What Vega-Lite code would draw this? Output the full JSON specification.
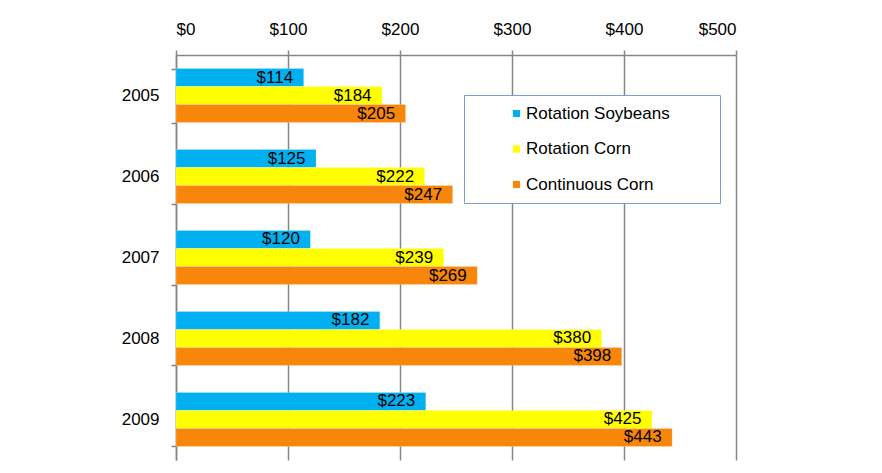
{
  "$schema": "https://vega.github.io/schema/vega-lite/v6.json",
  "width": 560,
  "height": 405,
  "autosize": {"type": "none"},
  "padding": {"left": 176, "top": 55, "right": 146, "bottom": 13},
  "background": "white",
  "config": {"font": "Liberation Sans", "view": {"stroke": null}},
  "data": {
    "values": [
      {"year": "2005", "series": "Rotation Soybeans", "value": 114},
      {"year": "2005", "series": "Rotation Corn", "value": 184},
      {"year": "2005", "series": "Continuous Corn", "value": 205},
      {"year": "2006", "series": "Rotation Soybeans", "value": 125},
      {"year": "2006", "series": "Rotation Corn", "value": 222},
      {"year": "2006", "series": "Continuous Corn", "value": 247},
      {"year": "2007", "series": "Rotation Soybeans", "value": 120},
      {"year": "2007", "series": "Rotation Corn", "value": 239},
      {"year": "2007", "series": "Continuous Corn", "value": 269},
      {"year": "2008", "series": "Rotation Soybeans", "value": 182},
      {"year": "2008", "series": "Rotation Corn", "value": 380},
      {"year": "2008", "series": "Continuous Corn", "value": 398},
      {"year": "2009", "series": "Rotation Soybeans", "value": 223},
      {"year": "2009", "series": "Rotation Corn", "value": 425},
      {"year": "2009", "series": "Continuous Corn", "value": 443}
    ]
  },
  "encoding": {
    "y": {
      "field": "year",
      "type": "nominal",
      "scale": {"paddingInner": 0.33333, "paddingOuter": 0.16667},
      "axis": {
        "title": null,
        "labelFontSize": 17,
        "labelColor": "#000000",
        "labelPadding": 12,
        "tickBand": "extent",
        "tickSize": 5,
        "tickColor": "#868686",
        "domainColor": "#868686",
        "domainWidth": 1.5,
        "tickWidth": 1.5
      }
    },
    "yOffset": {
      "field": "series",
      "type": "nominal",
      "sort": ["Rotation Soybeans", "Rotation Corn", "Continuous Corn"],
      "scale": {"paddingInner": 0, "paddingOuter": 0}
    },
    "x": {
      "field": "value",
      "type": "quantitative",
      "scale": {"domain": [0, 500]},
      "axis": {
        "orient": "top",
        "title": null,
        "values": [0, 100, 200, 300, 400, 500],
        "format": "$,.0f",
        "labelFontSize": 17,
        "labelColor": "#000000",
        "labelPadding": 12,
        "tickSize": 5,
        "tickColor": "#868686",
        "tickWidth": 1.5,
        "domainColor": "#868686",
        "domainWidth": 1.5,
        "grid": true,
        "gridColor": "#868686",
        "gridWidth": 1.5
      }
    }
  },
  "layer": [
    {
      "mark": {"type": "bar", "stroke": "white", "strokeWidth": 0.5, "strokeOpacity": 0.4},
      "encoding": {
        "color": {
          "field": "series",
          "type": "nominal",
          "sort": ["Rotation Soybeans", "Rotation Corn", "Continuous Corn"],
          "scale": {
            "domain": ["Rotation Soybeans", "Rotation Corn", "Continuous Corn"],
            "range": ["#00b0f0", "#ffff00", "#f8860b"]
          },
          "legend": {
            "orient": "none",
            "legendX": 288,
            "legendY": 40,
            "title": "\u00a0",
            "titleOrient": "right",
            "titlePadding": 40,
            "titleFontSize": 1,
            "strokeColor": "#7a9fd0",
            "fillColor": "white",
            "padding": 10,
            "symbolType": "square",
            "symbolSize": 50,
            "symbolStrokeWidth": 0,
            "symbolOffset": 34,
            "labelFontSize": 17,
            "labelColor": "#000000",
            "labelOffset": 1,
            "rowPadding": 17.5
          }
        }
      }
    },
    {
      "mark": {"type": "text", "align": "right", "baseline": "middle", "dx": -10.5, "fontSize": 17, "color": "#000000"},
      "encoding": {
        "text": {"field": "value", "type": "quantitative", "format": "$,.0f"}
      }
    }
  ]
}
